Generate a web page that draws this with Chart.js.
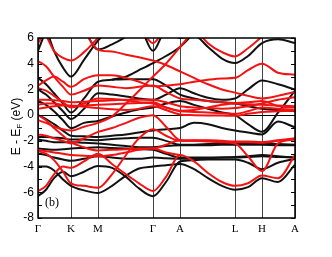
<!DOCTYPE html>
<html>
<head>
<meta charset="utf-8">
<script src="https://cdn.jsdelivr.net/npm/chart.js@4.4.1/dist/chart.umd.min.js"></script>
<style>
  html, body { margin: 0; padding: 0; background: #fff; }
  #wrap { position: relative; width: 332px; height: 257px; }
  #ylab { position: absolute; left: -34px; top: 119px; width: 100px; text-align: center;
          transform: rotate(-90deg); font: 12px "Liberation Sans", Arial, sans-serif; color: #000; white-space: nowrap; }
  #ylab sub { font-size: 8px; vertical-align: -2px; }
  #panel { position: absolute; left: 45px; top: 195px; font: 12px "Liberation Serif", "Times New Roman", serif; color: #000; }
</style>
</head>
<body>
<div id="wrap">
  <canvas id="c" width="332" height="257"></canvas>
  <div id="ylab">E - E<sub>F</sub> (eV)</div>
  <div id="panel">(b)</div>
</div>
<script>
// k-path sample points (path length in arbitrary units), high-symmetry points and labels
const kPath = [0, 8, 16, 25, 33, 46, 60, 74, 88, 101, 115, 128, 142, 156, 170, 184, 197, 210, 224, 240, 257];
const kSym = [0, 33, 60, 115, 142, 197, 224, 257];
const symLabels = ['Γ', 'K', 'M', 'Γ', 'A', 'L', 'H', 'A'];
const yTicks = [-8, -6, -4, -2, 0, 2, 4, 6];

// black bands, energy (eV) at each kPath point
const blackBands = [
  [5.0, 6.6, null, null, null, 6.7, 5.1, 5.5, 6.1, 6.8, 5.0, 6.6, 6.0, 6.2, 5.3, 4.4, 4.05, 4.6, 5.6, 5.9, 5.6],
  [null, 6.8, 5.0, 3.7, 3.0, 4.3, 5.8, 6.8, null, null, null, null, null, null, null, null, null, null, null, null, null],
  [null, null, null, null, null, null, null, 2.75, 3.0, 3.5, 4.05, 4.6, 5.3, 6.4, null, null, null, null, null, null, null],
  [2.9, 2.4, 1.7, 0.9, 0.2, 1.3, 2.6, 2.75, 2.8, 2.8, 2.8, 2.3, 1.6, 1.3, 1.1, 1.0, 0.9, 0.7, 0.5, 0.4, 0.3],
  [2.0, 1.6, 1.0, 0.3, -0.3, 0.5, 1.7, 1.6, 1.45, 1.3, 1.2, 1.6, 2.1, 1.7, 1.35, 1.2, 1.3, 2.0, 2.7, 2.4, 2.0],
  [1.1, 0.8, 0.3, -0.4, -1.0, -0.6, -0.45, -0.1, 0.2, 0.45, 0.6, 0.9, 1.1, 0.8, 0.5, 0.2, 0.0, -0.7, -1.3, 0.2, 1.9],
  [0.0, -0.3, -0.7, -1.2, -1.6, -1.65, -1.7, -1.6, -1.5, -1.35, -1.2, -1.1, -1.0, -0.6, -0.7, -1.0, -1.2, -1.35, -1.5, -0.5, -0.95],
  [-1.7, -1.7, -1.75, -1.8, -1.9, -1.9, -1.95, -1.85, -1.8, -1.75, -1.75, -2.0, -2.3, -2.3, -2.25, -2.2, -2.2, -2.2, -2.2, -2.25, -2.3],
  [-1.9, -2.0, -2.1, -2.1, -2.1, -2.15, -2.2, -2.3, -2.4, -2.5, -2.5, -2.4, -2.35, -2.35, -2.35, -2.3, -2.3, -2.3, -2.3, -2.35, -2.35],
  [-2.6, -2.65, -2.7, -2.65, -2.6, -2.55, -2.5, -2.55, -2.6, -2.65, -2.7, -3.0, -3.3, -3.3, -3.3, -3.3, -3.3, -3.25, -3.2, -3.25, -3.3],
  [-3.0, -3.1, -3.3, -3.45, -3.55, -3.4, -3.2, -3.3, -3.4, -3.4, -3.3, -3.35, -3.4, -3.4, -3.35, -3.3, -3.25, -3.2, -3.1, -3.2, -3.3],
  [-4.0, -4.0, -4.3, -5.0, -5.5, -5.85, -6.05, -5.5, -4.7, -4.15, -4.0, -3.9, -3.8, -4.2, -4.9, -5.5, -5.8, -5.6, -4.9, -5.2, -3.85],
  [-6.3, -5.8, -4.9, -4.4, -4.75, -4.4, -3.95, -4.1, -4.8, -5.7, -6.3, -5.2, -3.6, -3.5, -3.45, -3.45, -3.45, -3.7, -4.2, -3.7, -3.4],
];

// red bands, energy (eV) at each kPath point
const redBands = [
  [5.6, 6.6, null, null, null, null, null, null, null, null, null, null, null, null, null, null, null, null, null, null, null],
  [7.0, 6.2, 5.0, 4.45, 4.25, 4.9, 6.0, 7.0, null, null, null, null, null, null, null, null, null, null, null, null, null],
  [null, null, null, null, null, null, null, null, null, 7.0, 5.6, 7.0, null, 6.8, 5.6, 4.9, 4.57, 5.2, 6.1, 7.0, null],
  [null, null, null, null, null, 6.6, 5.1, 4.95, 4.7, 4.5, 4.25, 3.9, 3.4, 2.9, 2.4, 2.0, 1.75, 1.5, 1.3, 1.5, 1.8],
  [2.3, 2.7, 3.0, 2.6, 2.2, 2.8, 3.1, 3.1, 2.9, 2.6, 2.25, 2.3, 2.4, 2.6, 2.75, 2.85, 2.9, 3.5, 4.0, 3.3, 3.15],
  [4.2, 3.8, 3.0, 2.2, 1.6, 1.9, 2.3, 2.2, 2.1, 2.2, 2.3, 1.8, 1.3, 1.2, 1.1, 1.0, 0.95, 1.0, 1.1, 0.7, 0.6],
  [2.1, 1.9, 1.5, 1.0, 0.6, 0.9, 1.3, 1.25, 1.15, 1.0, 0.9, 0.6, 0.35, 0.4, 0.6, 0.8, 0.9, 0.85, 0.8, 0.75, 0.7],
  [1.2, 1.2, 1.15, 1.1, 1.0, 1.05, 1.1, 1.15, 1.2, 1.2, 1.2, 1.0, 0.7, 0.6, 0.55, 0.5, 0.55, 0.7, 0.9, 1.2, 1.4],
  [0.8, 0.9, 0.9, 0.8, 0.7, 0.75, 0.8, 0.85, 0.9, 0.95, 1.0, 0.6, 0.3, 0.25, 0.2, 0.15, 0.1, 0.3, 0.6, 0.5, 0.4],
  [0.5, 0.6, 0.7, 0.75, 0.75, 0.65, 0.55, 0.45, 0.4, 0.5, 0.7, 0.4, 0.05, 0.0, -0.02, -0.03, -0.05, 0.1, 0.25, 0.3, 0.35],
  [-0.4, -0.6, -0.9, -1.1, -1.2, -0.9, -0.6, -0.1, 0.9, 1.9, 3.0, 4.0, 5.3, 6.6, null, null, null, null, null, null, null],
  [0.0, -0.4, -1.0, -1.6, -2.1, -2.5, -2.75, -2.7, -2.65, -2.6, -2.6, -2.3, -1.95, -2.0, -2.0, -2.05, -2.1, -2.1, -2.15, -2.0, -1.85],
  [-1.5, -1.6, -1.8, -2.0, -2.2, -1.8, -1.3, -1.0, -0.6, -0.2, 0.0, -0.9, -1.95, -2.0, -2.05, -2.1, -2.2, -3.2, -4.35, -2.2, -1.9],
  [-2.8, -3.0, -3.5, -4.4, -5.3, -5.5, -5.65, -4.6, -3.1, -1.8, -1.1, -1.6, -2.0, -1.95, -1.95, -2.0, -2.05, -2.05, -2.1, -1.95, -1.8],
  [-2.7, -2.8, -2.9, -3.0, -3.1, -3.15, -3.2, -3.1, -2.9, -2.7, -2.6, -2.9, -3.1, null, null, null, null, null, null, null, null],
  [-5.9, -5.5, -4.6, -4.0, -4.1, -3.6, -3.0, -3.8, -4.6, -5.3, -5.9, -4.8, -3.1, -3.6, -4.5, -5.2, -5.5, -5.3, -4.7, -4.9, -3.1],
];

const toPoints = (band) => kPath.map((k, i) => ({ x: k, y: band[i] }));
const bandSet = (band, color) => ({
  data: toPoints(band),
  borderColor: color,
  borderWidth: 2,
  pointRadius: 0,
  fill: false,
  cubicInterpolationMode: 'monotone',
  spanGaps: false,
});

// inward minor ticks every 1 eV plus the frame
const frameTicks = {
  id: 'frameTicks',
  afterDatasetsDraw(chart) {
    const { ctx, chartArea: a, scales: { y } } = chart;
    ctx.save();
    ctx.strokeStyle = '#000';
    ctx.lineWidth = 1;
    ctx.beginPath();
    for (let v = y.min; v <= y.max; v++) {
      const py = Math.round(y.getPixelForValue(v)) + 0.5;
      ctx.moveTo(a.left, py); ctx.lineTo(a.left + 4, py);
      ctx.moveTo(a.right, py); ctx.lineTo(a.right - 4, py);
    }
    ctx.stroke();
    ctx.lineWidth = 1.5;
    ctx.strokeRect(a.left, a.top, a.right - a.left, a.bottom - a.top);
    ctx.restore();
  },
};

new Chart(document.getElementById('c'), {
  type: 'line',
  data: {
    datasets: [
      ...redBands.map((b) => bandSet(b, '#f21212')),
      ...blackBands.map((b) => bandSet(b, '#111111')),
    ],
  },
  options: {
    responsive: false,
    animation: false,
    layout: { padding: { left: 0, right: 37, top: 38, bottom: 0 } },
    plugins: { legend: { display: false }, tooltip: { enabled: false } },
    scales: {
      x: {
        type: 'linear',
        min: 0,
        max: 257,
        afterBuildTicks: (s) => { s.ticks = kSym.map((v) => ({ value: v })); },
        afterFit: (s) => { s.height = 39; },
        ticks: {
          autoSkip: false, maxRotation: 0, padding: 5, color: '#000',
          font: { family: '"Liberation Serif", "Times New Roman", serif', size: 11 },
          callback: (v, i) => symLabels[i],
        },
        grid: { color: '#444', lineWidth: 1, drawTicks: false },
        border: { display: false },
      },
      y: {
        min: -8,
        max: 6,
        afterBuildTicks: (s) => { s.ticks = yTicks.map((v) => ({ value: v })); },
        afterFit: (s) => { s.width = 38; },
        ticks: {
          padding: 4, color: '#000',
          font: { family: '"Liberation Sans", Arial, sans-serif', size: 12 },
          callback: (v) => String(v),
        },
        grid: {
          drawTicks: false,
          color: (c) => (c.tick && c.tick.value === 0 ? '#000' : 'rgba(0,0,0,0)'),
          lineWidth: 1,
        },
        border: { display: false },
      },
    },
  },
  plugins: [frameTicks],
});
</script>
</body>
</html>
